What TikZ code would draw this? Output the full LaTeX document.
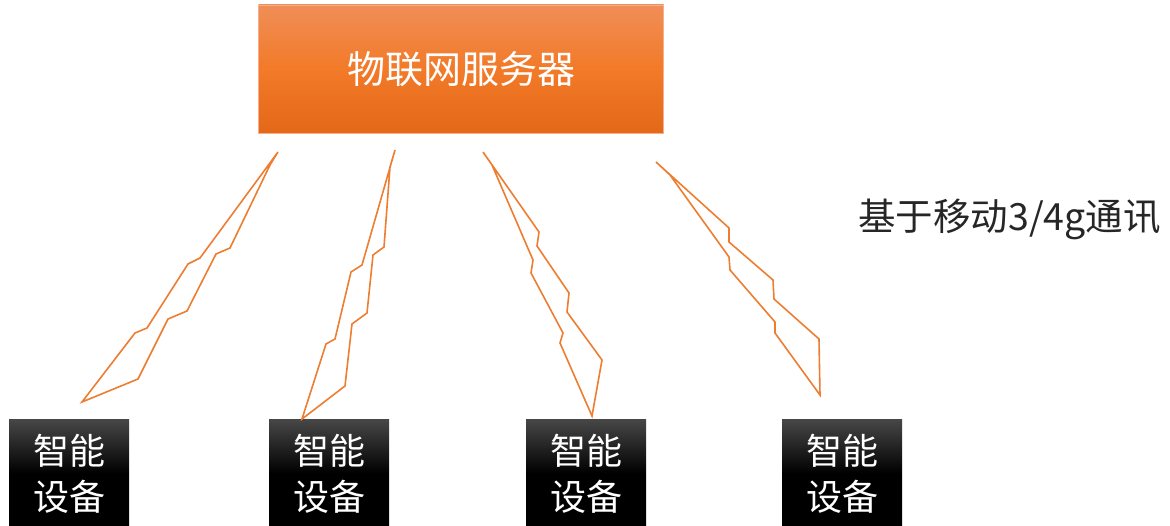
\documentclass[tikz,border=0pt]{standalone}
\usepackage{fontspec}
\newfontfamily\cjk{Noto Sans CJK SC}
\definecolor{boltc}{RGB}{237,125,49}
\definecolor{srvtop}{RGB}{240,142,88}
\definecolor{srvmid}{RGB}{242,122,40}
\definecolor{srvbot}{RGB}{228,104,24}
\definecolor{devtop}{RGB}{70,70,70}
\tikzset{
  server/.style={draw=srvtop!70!white, line width=0.8pt, top color=srvtop, bottom color=srvbot, middle color=srvmid,
    minimum width=405pt, minimum height=128pt, inner sep=0pt, text=white, font=\cjk\fontsize{38}{44}\selectfont},
  device/.style={top color=devtop, bottom color=black, middle color=black, shading angle=0,
    minimum width=120pt, minimum height=107pt, inner sep=0pt, text=white, align=center,
    font=\cjk\fontsize{36}{46}\selectfont},
  bolt/.style={draw=boltc, line width=1.6pt, line join=miter},
  lbl/.style={font=\cjk\fontsize{37.5}{44}\selectfont, text=black!85, inner sep=0pt}
}
\begin{document}
\begin{tikzpicture}[x=1pt,y=-1pt]
\useasboundingbox (0,0) rectangle (1170,526);
\node[server] (srv) at (461,69) {物联网服务器};
\node[device] (d1) at (69,473.5) {智能\\[0pt]设备};
\node[device] (d2) at (329,473.5) {智能\\[0pt]设备};
\node[device] (d3) at (586,473.5) {智能\\[0pt]设备};
\node[device] (d4) at (842,473.5) {智能\\[0pt]设备};
\node[lbl, anchor=west] (lab) at (858,219) {基于移动3/4g通讯};
% bolts
\draw[bolt] (278,152) -- (200,258) -- (188,264) -- (147,328) -- (135,333) -- (82,402)
  -- (138,379) -- (168,319) -- (187,311) -- (216,254) -- (230,248) -- (270,165) -- cycle;
\draw[bolt] (395,150) -- (362,265) -- (351,272) -- (335,339) -- (326,344) -- (302,419)
  -- (345,386) -- (352,324) -- (367,313) -- (373,255) -- (384,247) -- (390,167) -- cycle;
\draw[bolt] (483,152) -- (539,232) -- (537,246) -- (569,293) -- (567,312) -- (602,360) -- (592,416)
  -- (560,343) -- (563,333) -- (531,273) -- (533,260) -- (492,165) -- cycle;
\draw[bolt] (656,162) -- (729,228) -- (729,242) -- (773,280) -- (774,299) -- (819,339) -- (820,395)
  -- (775,333) -- (775,322) -- (730,270) -- (729,257) -- (670,175) -- cycle;
\end{tikzpicture}
\end{document}
